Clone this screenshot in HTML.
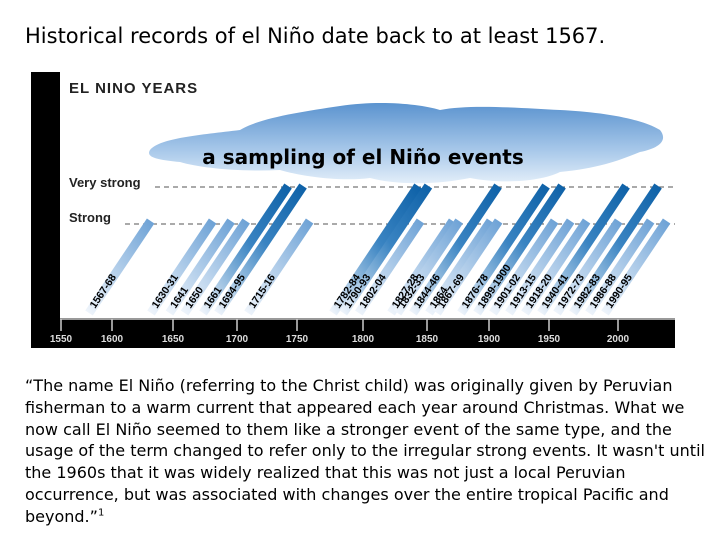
<!DOCTYPE html>
<html><head><meta charset="utf-8"><style>
body{margin:0;width:720px;height:540px;background:#fff;overflow:hidden;font-family:"DejaVu Sans","Liberation Sans",sans-serif;}
#title{position:absolute;left:25px;top:24px;font-size:21px;color:#000;white-space:nowrap;}
#para{position:absolute;left:25px;top:375px;font-size:16px;line-height:21.8px;color:#000;white-space:nowrap;}
sup{line-height:0;font-size:10px;}
svg{position:absolute;left:0;top:0;font-family:"Liberation Sans",sans-serif;}
</style></head><body>
<div id="title">Historical records of el Niño date back to at least 1567.</div>
<svg id="chart" width="720" height="360">
<defs>
<linearGradient id="cloudg" x1="0" y1="0" x2="0" y2="1"><stop offset="0" stop-color="#5b93cf"/><stop offset="0.6" stop-color="#a9c9ea"/><stop offset="1" stop-color="#e3eef9"/></linearGradient>
<linearGradient id="strongg" x1="0" y1="1" x2="1" y2="0"><stop offset="0" stop-color="#eef4fb"/><stop offset="1" stop-color="#6fa3d6"/></linearGradient>
<linearGradient id="vsg" x1="0" y1="1" x2="1" y2="0"><stop offset="0" stop-color="#eef4fb"/><stop offset="0.55" stop-color="#3a84c2"/><stop offset="1" stop-color="#0f62a8"/></linearGradient>
</defs>
<rect x="31" y="72" width="644" height="276" fill="#000"/>
<rect x="60" y="72" width="615" height="246" fill="#fff"/>
<g fill="url(#cloudg)">
<path d="M150,150 C160,138 200,135 240,130 C260,118 300,112 340,106 C380,100 420,104 440,110 C470,104 520,108 560,110 C600,112 640,118 660,130 C668,140 660,148 640,152 C620,160 600,168 560,172 C540,182 500,184 470,178 C440,184 400,186 370,178 C340,182 300,176 280,170 C240,172 200,168 180,162 C160,160 145,158 150,150 Z"/>
</g>
<text x="69" y="93" font-size="15" font-weight="bold" fill="#222" letter-spacing="1">EL NINO YEARS</text>
<text x="363" y="164" font-size="20" font-weight="bold" fill="#000" text-anchor="middle" font-family="DejaVu Sans, sans-serif">a sampling of el Niño events</text>
<text x="69" y="187" font-size="13" fill="#222" font-weight="bold">Very strong</text>
<line x1="155" y1="187" x2="675" y2="187" stroke="#555" stroke-dasharray="5,4"/>
<text x="69" y="222" font-size="13" fill="#222" font-weight="bold">Strong</text>
<line x1="125" y1="224" x2="675" y2="224" stroke="#555" stroke-dasharray="5,4"/>
<g id="bars"></g>
<g id="axis"></g>
</svg>
<div id="para">“The name El Niño (referring to the Christ child) was originally given by Peruvian<br>fisherman to a warm current that appeared each year around Christmas. What we<br>now call El Niño seemed to them like a stronger event of the same type, and the<br>usage of the term changed to refer only to the irregular strong events. It wasn't until<br>the 1960s that it was widely realized that this was not just a local Peruvian<br>occurrence, but was associated with changes over the entire tropical Pacific and<br>beyond.”<sup>1</sup></div>
<script>
const tickYears=[1550,1600,1650,1700,1750,1800,1850,1900,1950,2000];
const eventYears=[1567,1630,1641,1650,1661,1694,1715,1782,1790,1802,1827,1832,1844,1864,1867,1876,1899,1901,1913,1918,1940,1972,1982,1986,1990];
const eventLabels=["1567-68","1630-31","1641","1650","1661","1694-95","1715-16","1782-84","1790-93","1802-04","1827-28","1832-33","1844-46","1864","1867-69","1876-78","1899-1900","1901-02","1913-15","1918-20","1940-41","1972-73","1982-83","1986-88","1990-95"];
const eventStrength=[1,1,1,1,2,2,1,2,2,1,1,1,2,1,1,2,2,1,1,1,2,1,2,1,1];
// axis scale (tick positions of the illustrated time axis)
const axisDom=[1550,1600,1650,1700,1750,1800,1850,1900,1950,2000];
const axisRng=[61,112,173,237,297,363,427,489,549,618];
// event baseline scale (the illustration is not linear in time)
const evtDom=[1567,1630,1661,1694,1715,1782,1844,1864,1876,1899,1901,1913,1918,1940,1972,1982,1990];
const evtRng=[89,151,203,218,248,333,413,429,461,477,493,509,525,541,557,573,605];
function pw(d,r,v){for(let i=0;i<d.length-1;i++){if(v<=d[i+1]||i==d.length-2){const t=(v-d[i])/(d[i+1]-d[i]);return r[i]+t*(r[i+1]-r[i]);}}}
function xs(y){return pw(axisDom,axisRng,y);}
function xe(y){return pw(evtDom,evtRng,y);}
const levelY=[313,221,186];
function ys(s){return levelY[s];}
const NS='http://www.w3.org/2000/svg';
const bars=document.getElementById('bars');
const slope=0.67;
eventYears.forEach((yr,i)=>{
 const x0=xe(yr),y0=ys(0),y1=ys(eventStrength[i]);const x1=x0+(y0-y1)*slope;
 const p=document.createElementNS(NS,'line');
 p.setAttribute('x1',x0);p.setAttribute('y1',y0);p.setAttribute('x2',x1);p.setAttribute('y2',y1);
 p.setAttribute('stroke',eventStrength[i]==2?'url(#vsg)':'url(#strongg)');
 p.setAttribute('stroke-width','9');
 
 
 bars.appendChild(p);
});
eventYears.forEach((yr,i)=>{
 const x0=xe(yr);
 const t=document.createElementNS(NS,'text');
 t.setAttribute('transform',`translate(${x0+6},${ys(0)-4}) rotate(-56)`);
 t.setAttribute('font-size','10.5');t.setAttribute('font-weight','bold');t.setAttribute('fill','#000');
 t.textContent=eventLabels[i];
 
 
 bars.appendChild(t);
});
const axis=document.getElementById('axis');
const al=document.createElementNS(NS,'line');
al.setAttribute('x1',60);al.setAttribute('x2',675);al.setAttribute('y1',319);al.setAttribute('y2',319);al.setAttribute('stroke','#999');al.setAttribute('stroke-width','2');


axis.appendChild(al);
tickYears.forEach(y=>{
 const l=document.createElementNS(NS,'line');
 l.setAttribute('x1',xs(y));l.setAttribute('x2',xs(y));l.setAttribute('y1',319);l.setAttribute('y2',331);l.setAttribute('stroke','#ccc');l.setAttribute('stroke-width','1.5');
 
 
 axis.appendChild(l);
 const t=document.createElementNS(NS,'text');
 t.setAttribute('x',xs(y));t.setAttribute('y',342);t.setAttribute('text-anchor','middle');t.setAttribute('font-size','10');t.setAttribute('font-weight','bold');t.setAttribute('fill','#ddd');
 t.textContent=y;
 
 
 axis.appendChild(t);
});
</script>
</body></html>
